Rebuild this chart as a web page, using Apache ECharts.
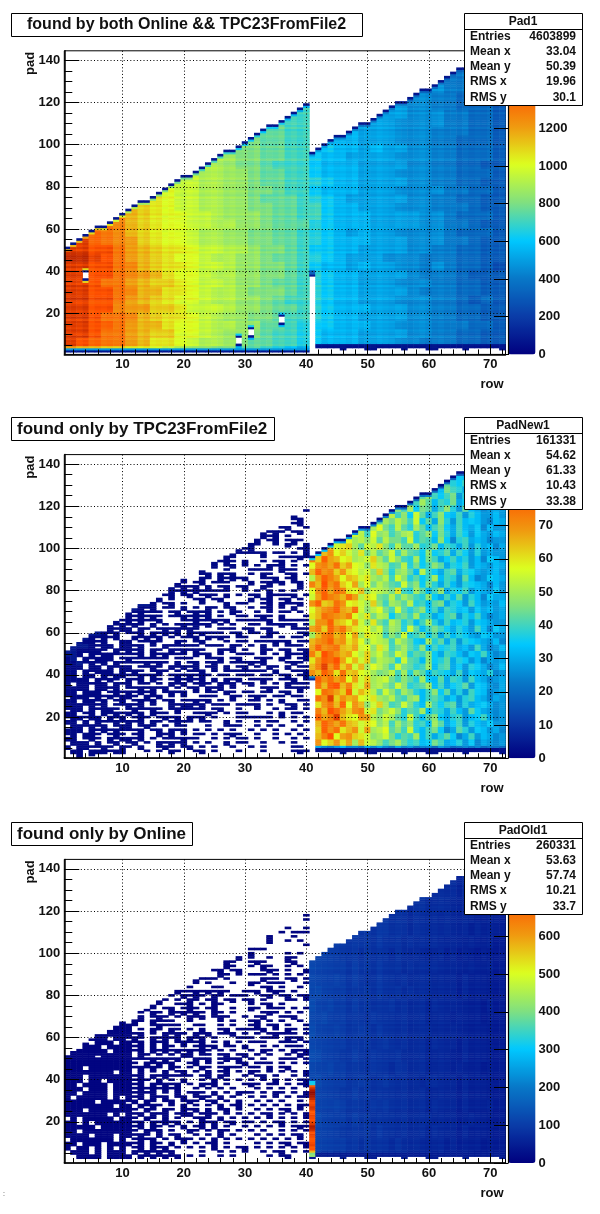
<!DOCTYPE html>
<html><head><meta charset="utf-8">
<style>html,body{margin:0;padding:0;background:#fff}#c{width:600px;height:1214px}</style>
<script src="https://cdn.jsdelivr.net/npm/echarts@6/dist/echarts.min.js"></script>
</head><body><div id="c"></div>
<script>
const rows = Array.from({length:72},(_, i)=>String(i+1));
const pads = Array.from({length:144},(_, i)=>String(i+1));
const titles = ['found by both Online && TPC23FromFile2','found only by TPC23FromFile2','found only by Online'];
const statNames = ['Pad1','PadNew1','PadOld1'];
const statLabels = ['Entries','Mean x','Mean y','RMS x','RMS y'];
const stats1 = ['4603899','33.04','50.39','19.96','30.1'];
const stats2 = ['161331','54.62','61.33','10.43','33.38'];
const stats3 = ['260331','53.63','57.74','10.21','33.7'];
const barMax = [1612,91.4,803];
const barStep = [200,10,100];
const palette = ['#00007f','#0a3ca8','#0878c8','#00c8ff','#80e080','#dcff20','#f09a10','#ff5000','#800000'];
// highest filled pad of each row
const padTop = [51,53,55,57,59,61,61,63,65,67,69,71,73,73,75,77,79,81,83,85,85,87,89,91,93,95,97,97,99,101,103,105,107,109,109,111,113,115,117,119,
 96,98,100,102,104,104,106,108,110,110,112,114,116,118,120,120,122,124,126,126,128,130,132,134,136,136,138,140,142,142,142,142];
// lowest filled pad of each row
const padStart = [2,2,2,2,2,2,2,2,2,2,2,2,2,2,2,2,2,2,2,2,2,2,2,2,2,2,2,2,2,2,2,2,2,2,2,2,2,2,2,2,
 38,4,4,4,4,3,4,4,4,3,3,4,4,4,4,3,4,4,4,3,3,4,4,4,4,3,4,4,4,4,4,3];
// white holes in the first panel: row, first pad, last pad
const p1Holes = [[4,37,39],[29,6,8],[31,10,12],[36,16,18]];
// panel 1: 36 bands of 4 pads (top first), 36 columns of 2 rows; base-36 level x 50
const p1Levels = [
"..................................76",
".................................776",
"................................8776",
"...............................88776",
"..............................988776",
"............................99887776",
"...................e.......a99887776",
"..................ee......aa99988776",
".................fee....aaa999988776",
"................ffee...baaa999888776",
"...............gffee..bbaaa999887776",
"..............ggffee.cbbabaa99887776",
".............hggffeecbbaaaa999887776",
"............ihggfeeecbbbaaaa99887766",
"...........iihhgffeecbbbaaa999887776",
"..........jiihhgffeedcbbaaaa99887766",
".........jjiihhggfeecbbbaaa999988776",
"........kjjiihhgfffedcbaaaaa99887766",
".......lkjjiihhggffeecbbaaa999888766",
"......mlkkjjihhhgffeecbbbaaaa9987776",
".....nmlkkjjiihhgfffdcbbbaaaa9988766",
"....pnmlkkjiihhggffedcbabaa999987776",
"..rqpomlkkjiihhggffedcbbbaaa99988766",
"ttssqonmllkjjiihggfeccbbaaaa99887766",
"uutsqonmlkkjiihhgffedcbaaa9998887766",
"ttssqpnmllkjjihhggfecbbabaa998987765",
"ttssqponlkkjiihhggfedcbbaaaa98887666",
"ttsqqonmmlkjjihhgffedcbbaaa999887766",
"ttssqpnnllkjiihgggfedcbbaaaa98887766",
"ttssqonmlkkjiihhgfeedcbbaaa999887676",
"ttsspoommljjjihhgffedcbbbaaa99887766",
"ttsqqpnmllkjihhggfeedcbbaaaa99887766",
"ttsrqonnlkkjiihhffedccbbbaa999888776",
"ttsqqonmmkkjihhgfeedcbbbaaaa99887766",
"tsrqqonllkjiihgffeedcbbbaaa998887766",
"onnmmllkjihhggffedcbbbaaa99988776655"];
// digit strings: streak of each single pad (pad 1 first) and of each single row, read as small shifts around 3
const padShade = "343253426135243516342453127343526142353416253342615243352416343251634253426135243516342453127343526142353416253342615243352416343251634253426135";
const rowShade = "342514352634152436425313524634152436251435263415243642531352463415243625";
// panel 2, rows 1-40: 2-pad bands from pad 120 down; # two pads, - one pad, @ two pads stronger
const p2Sparse = [
".......... .......... .......... .........-",
".......... .......... .......... .........-",
".......... .......... .......... .......#..",
".......... .......... .......... .....---#.",
".......... .......... .......... .......-#.",
".......... .......... .......... .....-#..-",
".......... .......... .......... ..#-#-.-#.",
".......... .......... .......... .-#-#.-...",
".......... .......... .......... -#.-#.-#-.",
".......... .......... .........- #-..-.#-.#",
".......... .......... .......-#- #.......-#",
".......... .......... ......-#-- --#.--.-.#",
".......... .......... ....#-#-.. ..-..---#-",
".......... .......... ...-#-#-.# ..-.-#.-..",
".......... .......... ..#-#.-#.- .-.#-#.-.-",
".......... .......... .-#...-... ----.#--..",
".......... .........- ..-#.#-#.. -.#-..-#.-",
".......... .........# ..#-.#-#-# ..--#.-#..",
".......... .......-#- .-#.---... #.-#-#.-#.",
".......... ......-#-# -#.#.-#.-# ..#-....#.",
".......... .....#-#-# -#-----.. -.-.#.-.-.",
".......... ...@@--#.- #.-#-.#.-. -#.#---#.-",
".......... ...@-#.-.. .-#.-#.... #.-#.-#.-.",
".......... ..@@#.-#.- ..-...#.-- ..-#.#--#.",
".......... .@#-#.--.# .-.#-.-#.. -.-#.-.#..",
".........- #-#---.-#. -#-#.-.#-. .-.-.--.-.",
"........#- #-#-#-.--# -#-#.-..-- .-#-.#...-",
".......-#- #-#--#...- -#--#-#.-- ---#.-----",
".....#-#-# -#-.#.-.-# -#-#.-.-.. --.--#-#.-",
"....#-.#-# #.#-.-#-#- #-...---.- #.-#...---",
"...@@@#-#. --#.#-#-#. #-#---.-#. --.#-...-#",
"..@@#-#-#. .#-#-#.-.- -#.#-#-.-- ..--.-.--.",
".@@##-#..# #.--#-..#- .-#...-.-- .---#-#.--",
"@@@@#-##.# #-#.-.#--- --.---.#-. -.#.-.---.",
"@@####-.#- #-#.#-.#-# -#-..#-#.- ..#-.-#.-#",
"@@#.#-##-- --#.#-#--- .#-#.-..-- -.-.-.#--#",
"#@.#-###.- #------.-- -..--#.-#. .-#-.#-.-#",
"##@-#-#.#- ---#-#-.#. -#.-#-.--- #-#...-#-.",
"###.##.#-# #.--#-.#-# -#.-#.#.-# .-.#-.#.--",
"##.#-###.# -#-.-#-.-. --#.-.---- ---.#..--#",
"##.##.#-## --#-#-.-#- #-#-.--.-- -.--.-#.-#",
"####.#-#-. #-#.#-.-#- #-#.#.#-#. --#-.--#.-",
"#.##-##.#- #.--.-.#-# .-#-.#-#.- #.-.-.#---",
"####.##-#. --#-#-#.-. -#.#-#.-.. ..-#-.--#-",
"##.###.-#- #-#-#.-#-# .-.--.#-.- -.--.-#.-.",
"-###-#-#-# #-.#-#.-.- ..---..#-. -#-.--.--.",
"##.##-#.-# .-#-#.-#.- -#-#.-.-.. --.-.#..--",
"###-#-#.-- #-#.-..#-# #-#.---.-- -#.-..-#.-",
"-##.#-##-. -#--#-.-#- ---.-#..-. .-..-.--.-",
"##.-#.#-#- #-#.#--.-. .--#-.-.-- ...-.#.--.",
"-##-##.#-# .-#-.-#-#. #-#.-...-- ----.-.-.-",
"##.#.#--#- #-#.#-.-#- -.--..#.-. .-.--..-.-",
".##-#-#.-# #.-#-.-.-- ...-..--- ..-.-.-..-",
"###.#-#-#- --#.-#.#-# .-.-.-.-.. -.-.-..-.-",
"-#.##-.-#- .-#..#-#.- .--.-.-#-. .-..-.-.-.",
"##.-#-.#-# #-#.-.---# --..-.-.-- .-..-..-.-",
".###.#.-#. -#.-.#-#-# .-.-..#.-- ..-..-.-..",
"#.##--#-.# -.#..-#-.- #.-.-..-.. -.-....--.",
".##.###-## ...-.-.#-. .-#.-...-. ..-....-#-",
"..#.-..... .......... .......... .........."];
// panel 2, rows 41-72: 3-pad bands from pad 144 down; base-36 level x 2.5
const p2Levels = [
"............................dccb",
"............................dcbc",
"..........................fbdcbc",
".........................ddgbdcbb",
"......................hfegdhbcbb",
"....................gdigfcfdbcac",
"..................hjgegibfeg9cac",
"................jgkhdgficeh9cbdb",
"..............jgkeihcgjfbhdcabcb",
"............ilgjemhcgjedgbfdbbdb",
"..........mhkiljgmehcjfbgdedbadc",
"........mjkniglhfkhdgiecgdceadbb",
".....nkmlgnjkgiklfhjeifcgebecbdc",
"....pmnkljmhliigmfhgdjeafgcdcabb",
"...qmopkhmlojglhhkfgidgfcgbfcdac",
".rqsnpmkoilhjmgkhgejefhcgebfbcbb",
"tpvrqnoklmpkhmjgfkeigcegdfbdaedb",
"nstruprnmjolkghlfiegjhcfegbdcbdc",
"qvstpsonlmjpjfjkhdlgecghcfecbcdb",
"lrvtrnqpmokjlgmjfhegkdgfbhdabedc",
"tqwsupnrkniljhgmhjeifcgdbfedcadb",
"nsvrutonqjmlkiogfkhdgjcfegbdcbeb",
"mrvtsqurlonihlhkigfjecgdhbfdaecc",
"svpqusnomkpjgkjhlfgdhicfebgdbcbd",
"nqstvrqumjlnigmhfhjegcgfdebecdbc",
"oqutsrtnloilkehigkfgceghbfdgcabc",
"lssvqpnrmjoigljfhdgkfcgdefbedcbb",
"rtpvsuqomnkmhkjfmhdgigecfdbgdaec",
"kqtuqsnrkomlgjhmfgiehcgdfecbedbb",
"qstvrsoqnjmlkgljhedkfhcgbfedcbda",
"rvstuqprmnjolgikhfjdgefgcdbgcabd",
"tpwusqrnlpkmjhmkfhgjecgfdbedgcab",
"osvuwrnqmpilkjfmhgdjefhcfebdacbc",
"qtxsvpsmqknljgmihfgkdghcebfecabd",
"sqvtoupqnmkijlgkfjhdgfecgbedcfab",
"jvsurtnrmpklmigjhfkedhcgfbgdcabc",
".uqvwqtomrkljhmjfghkdgcefhbedbac",
".nutrpvmqolhmjgkifdgjehcfbgedabc",
".usxpsqrnmokjlhgjkdghfcebfgdcacb",
".osuqvnsqjmpkghmifdkgeghbfcdecab",
".tqwurpstmoikmjfhgkdgfcgdbhecbab",
".vrtxqonsrljmkhfmgdhjecfgbdegcab",
".qvtruqpmonjlgkhjfgdkhcegbfdcebb",
".pvsuoqsmrklnhjgmfdgieachfbedbca",
".qtwnrspomjkmifhgkdgcfheacgbdcab",
".snpsorkqmljgikhfgdeigcdfbeacbab",
".ca9bdaa9caca9cab9aa8ba89a9a8998",
"................................"];
// panel 3, rows 1-40: 2-pad bands from pad 120 down
const p3Sparse = [
".......... .......... .......... ..........",
".......... .......... .......... .........-",
".......... .......... .......... ......-..-",
".......... .......... .......... .....--...",
".......... .......... .......... ......-..-",
".......... .......... .......... ..-.--.---",
".......... .......... .......... ...#...-..",
".......... .......... .......... ...#..-.-.",
".......... .......... .......... .........-",
".......... .......... .......... ---.......",
".......... .......... ........-. #.....-.-.",
".......... .......... ........#. -..-..#-..",
".......... .......... .....-#-.. -#-...-#..",
".......... .......... ....-.#-.. -.#-..-.-.",
".......... .......... ..#.-#.-#. ..-#-.-..#",
".......... .......... ..-..#-.-. ---.-.-.-.",
".......... .......... .#---.-... ..#--.-#.-",
".......... .......... .-.-...-.. #-.---...-",
".......... ........-. -...--.... ..-#.-..-.",
".......... ........#- -#-#-#-.. --#.-#-.-.",
".......... .......-.# -#-.#-.--- ..-#.-#.-#",
".......... .....#-.-. #-.-#.-#.- #.-...--.-",
".......... ....#-..-- #.-.#-.... -.-#.-....",
".......... ...#-.-#.- #-.-#..-.. #-.---.-.-",
".......... ..-.#-.#-# -#-.#-.-.. ..-#-.-.-.",
"........-. ..#.-#-.-. #-#.-#-..- .-#..--#..",
"........## .#-.#---.. -....-.-.. -#.-.-..-.",
".......### #-..-#---. .--..-.-.. -#.-#.-..-",
"......#### #.-.#-.#-. -.#..-#.-- --#.-.#-.-",
"....-##### #-#.-.#-#- .#-#.--#..- .-.-#---.-".replace('..- .','.- .'),
"...####.## -#-.#-#-#. #-#.-...-- -.---.#-#.",
"..##.###.# #-#.#-#.-# --#.-.#.-. ---..---.-",
"-.-###.### #-#.#.#-.- .-#-#.--.# ..-.-.---.",
"#######.## #-#.#-#-#- #-#-.-.-.. -.#-.-.#-#",
"#####-#### #.#-.-.-.# #.--.-#.-# .-.-..-.#-",
"########## #---#-#-#. .#-#.-#-#. -.-..---.-",
"########## #-.#-#-#.. -#.-.-..-# .---.-.-.-",
"###.###### #-#-#-.#-. -.#-.-#--. --.#.-#...",
"########.# #.#.-.#.-# .-.#.-#.-. #-.-.-.-.#",
"###.###### #-#.#-#--- -.-#.#-..- .-#.-..-.-",
"###.##.### #-#-.#.-.# ..-.#.-.-. -.-.#.-.-#",
"##.####.## #-#.#-#-#. -.#-#.-..- #-.--.-.-#",
"###.###.## #-#-#-#-#. .-.-.-.-.. .-.-.-.-..",
"##.####.## #-#-#.-.#. -#-.#.-.#- -.-.#-.-.#",
"#.#####.#. #-#.#-#.-# .-#-.#.-.. -.-.-.-.--",
"#####.#### -#.#-.-#.- #-.-#.-.#. .-.-.-..-.",
"########.# #.#-#-.-.# .-.-.#.-#. -.-.-.-.#-",
"###.###### #-.#-.#-.# -#.#.-#.-. .-.-.-#.-.",
"#######.#. #-#.#-#.-# #.-#-.-.-. -.-#.-.-.#",
".#.#####.# #-.#-.#.-. .-#-.#.-.- .-.-.-.-.-",
"##.#.##### #-#.#-#-#. -.#-#.-#.- -.-.-#.-.-",
"#####.#### #-#.#-.-.# .-#.#.-..- .-.-.-.-#-",
"##.####### #-.#-#.-.. #-.-.#-.-. -.-..-.-.-",
"####.###.# #-#-.#.-#. .-.-.#.-.. .-.-.-.-#.",
".#######.# .-#-#.-.-# -.-.#.-.-. -.-.-.-.-.",
"##.###.### #-#.#-.#.- .-.-#.-... .-.-.-#.-#",
"#.##.#.#.# .-#.#-#.-. -.-.#.-.-# .-.-.-.-.-",
".###.#.### .#-#-#-#.. ..-..-.-.- ..-.-#.-.-",
"..####.### #.#-#-#-#. -.-..-.-.. ...-.-#...",
".......... .......... .......... .........."];
// panel 3, rows 41-72: 6-pad bands from pad 144 down; base-36 level x 9
const p3Levels = [
"............................7667",
"..........................777667",
"......................8878777666",
"..................98888777767666",
"..............998988878777766665",
"............a9998988878777676665",
"........aa9a99989888877776766655",
"..cbbaaa9a9998988877776766656555",
"dccbbbabaa9a99989888877776766655",
"dccbcbaba99a99898888777767666555",
"ddcbbbaaaa9a99989888777767666555",
"ecccbbabaa999a898887877776665655",
"dcdbbbaaa9a999898887777676665555",
"eccbcbaaba9a99898888777776666555",
"dccbbbaaaa99a9898887877767666555",
"edcbbaaba9a999988887777667666555",
"dcccbbaaa9a998998887777676665555",
"ddcbbbaaba99a9898878877767666555",
"eccbbaabaa9999898887777767666555",
"dccbcbaaa9a9a9898887877767666655",
"edcbbbabaa9999898888777766766555",
"dccbbaaaaa9a99898887877767666555",
"dccbbbaa9a9998988877776766665555",
"bbaa9a99989888887777676666655555"];
// panel 3, row 41, pads 3 to 39
const p3Row41 = [40,420,400,570,700,690,720,710,700,690,710,720,700,740,760,770,730,720,700,710,720,700,690,730,740,720,710,720,750,770,780,790,770,740,690,320,310];

const FONT = '"Liberation Sans", Arial, sans-serif';
const level = ch => parseInt(ch,36);
const clean = s => s.replace(/ /g,'');
const isOuter = r => r > 40;
const shade = (r,p) => (+padShade[p-1]-3) + (+rowShade[r-1]-3)*0.6;

function tableValue(table, band, col){
  for(let b=band;b<table.length;b++){
    const ch = table[b][col];
    if(ch && ch!=='.') return level(ch);
  }
  return 0;
}
function panel1(){
  const out=[];
  for(let r=1;r<=72;r++){
    const start=padStart[r-1], top=padTop[r-1];
    for(let p=start;p<=top;p++){
      const hole=p1Holes.find(h=>h[0]===r&&p>=h[1]-2&&p<=h[2]+2);
      let v=tableValue(p1Levels,Math.floor((144-p)/4),Math.floor((r-1)/2))*50+shade(r,p)*11;
      if(hole){
        if(p>=hole[1]&&p<=hole[2]) continue;
        if(p===hole[1]-1||p===hole[2]+1) v=70; else v*=0.75;
      }
      if(p===top) v=70; else if(p===top-1) v*=0.8;
      if(r===41&&p===38) v=90; else if(r===41&&p<=40) v=330;
      if(isOuter(r)&&r!==41&&p<=5) v=p===start?50:70;
      if(!isOuter(r)&&p===2) v=70; if(!isOuter(r)&&p===3) v=480;
      out.push([r-1,p-1,v]);
    }
  }
  return out;
}
function sparse(lines,r,top){
  const res=[];
  lines.forEach((s,i)=>{
    const ch=clean(s)[r-1], hi=120-2*i;
    if(ch==='#'||ch==='@'||ch==='-'){
      (ch==='-'?[hi]:[hi,hi-1]).forEach(p=>{ if(p<=top) res.push([r-1,p-1,ch==='@'?4.5:1.5]); });
    }
  });
  return res;
}
function panel2(){
  let out=[];
  for(let r=1;r<=40;r++) out=out.concat(sparse(p2Sparse,r,padTop[r-1]));
  for(let r=41;r<=72;r++){
    const start=padStart[r-1], top=padTop[r-1];
    for(let p=start;p<=top;p++){
      let v=tableValue(p2Levels,Math.floor((144-p)/3),r-41)*2.5;
      if(p===top) v=2; else if(p===top-1) v*=0.5;
      if(r===41&&p<=39) v=p===38?8:24;
      if(r!==41&&p<=5) v=3;
      out.push([r-1,p-1,v]);
    }
  }
  return out;
}
function panel3(){
  let out=[];
  for(let r=1;r<=40;r++) out=out.concat(sparse(p3Sparse,r,padTop[r-1]).map(d=>[d[0],d[1],6]));
  for(let r=41;r<=72;r++){
    const start=r===41?3:padStart[r-1], top=padTop[r-1];
    for(let p=start;p<=top;p++){
      let v=tableValue(p3Levels,Math.floor((144-p)/6),r-41)*9+shade(r,p)*2.5;
      if(r===41&&p<=39) v=p3Row41[p-3];
      if(r!==41&&p<=5) v=45;
      out.push([r-1,p-1,v]);
    }
  }
  return out;
}
const panelData=[panel1(),panel2(),panel3()];

// layout
const L=64.3, W=441.2, H=303.6;
const tops=[50.8,454.6,859.4];
const titleBox=[[11.5,13.5,351,23,27],[11.5,417.5,263,23,17],[11.5,822.5,181,23,17]];
const titleSize=[16,17,17];
const statTops=[13.5,417.5,822.5];
const allStats=[stats1,stats2,stats3];

const grid=[],xAxis=[],yAxis=[],series=[],visualMap=[],graphic=[];
const txt={color:'#111',fontFamily:FONT,fontWeight:'bold',fontSize:13};
tops.forEach((t,i)=>{
  const g=grid.length;
  grid.push({left:L,top:t,width:W,height:H,show:true,borderColor:'#000',borderWidth:1,backgroundColor:'#fff',containLabel:false});
  const xMajor=xAxis.length, yMajor=yAxis.length;
  const sharedLine={show:true,lineStyle:{color:'#000',width:1.5}};
  xAxis.push({type:'category',gridIndex:g,data:rows,z:5,position:'bottom',
    axisLine:sharedLine,
    axisTick:{show:true,alignWithLabel:true,inside:true,length:10,interval:(k,v)=>+v%10===0,lineStyle:{color:'#000',width:1}},
    axisLabel:{...txt,margin:4,interval:(k,v)=>+v%10===0},
    splitLine:{show:true,alignWithLabel:true,interval:(k,v)=>+v%10===0,lineStyle:{color:'#000',width:1,type:[1,2.3]}},
    name:'row',nameLocation:'end',nameGap:-2,nameMoveOverlap:false,nameTextStyle:{...txt,align:'right',verticalAlign:'top',padding:[24,0,0,0]}});
  xAxis.push({type:'category',gridIndex:g,data:rows,z:5,position:'bottom',
    axisLine:{show:false},axisLabel:{show:false},splitLine:{show:false},
    axisTick:{show:true,alignWithLabel:true,inside:true,length:5,interval:(k,v)=>+v%2===0,lineStyle:{color:'#000',width:1}}});
  yAxis.push({type:'category',gridIndex:g,data:pads,z:5,position:'left',
    axisLine:sharedLine,
    axisTick:{show:true,alignWithLabel:true,inside:true,length:15,interval:(k,v)=>+v%20===0,lineStyle:{color:'#000',width:1}},
    axisLabel:{...txt,margin:4,interval:(k,v)=>+v%20===0},
    splitLine:{show:true,alignWithLabel:true,interval:(k,v)=>+v%20===0,lineStyle:{color:'#000',width:1,type:[1,2.3]}},
    name:'pad',nameLocation:'end',nameGap:-1,nameRotate:90,nameMoveOverlap:false,nameTextStyle:{...txt,align:'right',verticalAlign:'bottom',padding:[0,0,27,0]}});
  yAxis.push({type:'category',gridIndex:g,data:pads,z:5,position:'left',
    axisLine:{show:false},axisLabel:{show:false},splitLine:{show:false},
    axisTick:{show:true,alignWithLabel:true,inside:true,length:8,interval:(k,v)=>+v%5===0,lineStyle:{color:'#000',width:1}}});
  series.push({type:'heatmap',xAxisIndex:xMajor,yAxisIndex:yMajor,data:panelData[i],progressive:0,animation:false,
    emphasis:{disabled:true},itemStyle:{borderWidth:0}});
  visualMap.push({type:'continuous',seriesIndex:series.length-1,dimension:2,min:0,max:barMax[i],show:true,calculable:false,
    text:null,showLabel:false,left:508,top:t,itemWidth:27.5,itemHeight:H,padding:0,inRange:{color:palette},hoverLink:false});
  // colour scale axis
  const gb=grid.length;
  grid.push({left:508,top:t,width:27.5,height:H,show:false});
  xAxis.push({type:'value',gridIndex:gb,show:false,min:0,max:1});
  yAxis.push({type:'value',gridIndex:gb,position:'right',min:0,max:barMax[i],interval:barStep[i],z:6,
    axisLine:{show:true,lineStyle:{color:'#000',width:1.2}},
    axisTick:{show:true,inside:true,length:14,lineStyle:{color:'#000',width:1}},
    axisLabel:{...txt,margin:3,showMaxLabel:false,formatter:v=>String(v)},splitLine:{show:false}});
  // title box
  const b=titleBox[i];
  graphic.push({type:'rect',z:20,shape:{x:b[0],y:b[1],width:b[2],height:b[3]},style:{fill:'#fff',stroke:'#000',lineWidth:1}});
  graphic.push({type:'text',z:21,x:b[4],y:b[1]+b[3]/2,style:{text:titles[i],font:`bold ${titleSize[i]}px ${FONT}`,fill:'#111',verticalAlign:'middle'}});
  // stats box
  const s=statTops[i];
  graphic.push({type:'rect',z:20,shape:{x:464.5,y:s,width:118,height:92},style:{fill:'#fff',stroke:'#000',lineWidth:1}});
  graphic.push({type:'line',z:21,shape:{x1:464.5,y1:s+16,x2:582.5,y2:s+16},style:{stroke:'#000',lineWidth:1}});
  graphic.push({type:'text',z:21,x:523,y:s+8,style:{text:statNames[i],font:`bold 12px ${FONT}`,fill:'#111',align:'center',verticalAlign:'middle'}});
  statLabels.forEach((lab,k)=>{
    const y=s+23+k*15.2;
    graphic.push({type:'text',z:21,x:470,y,style:{text:lab,font:`bold 12px ${FONT}`,fill:'#111',align:'left',verticalAlign:'middle'}});
    graphic.push({type:'text',z:21,x:576,y,style:{text:allStats[i][k],font:`bold 12px ${FONT}`,fill:'#111',align:'right',verticalAlign:'middle'}});
  });
});
graphic.push({type:'text',z:21,x:3,y:1191,style:{text:':',font:`7px ${FONT}`,fill:'#333'}});

const chart=echarts.init(document.getElementById('c'),null,{renderer:'canvas',width:600,height:1214});
chart.setOption({animation:false,backgroundColor:'#fff',grid,xAxis,yAxis,series,visualMap,graphic,tooltip:{show:false}});
</script></body></html>
